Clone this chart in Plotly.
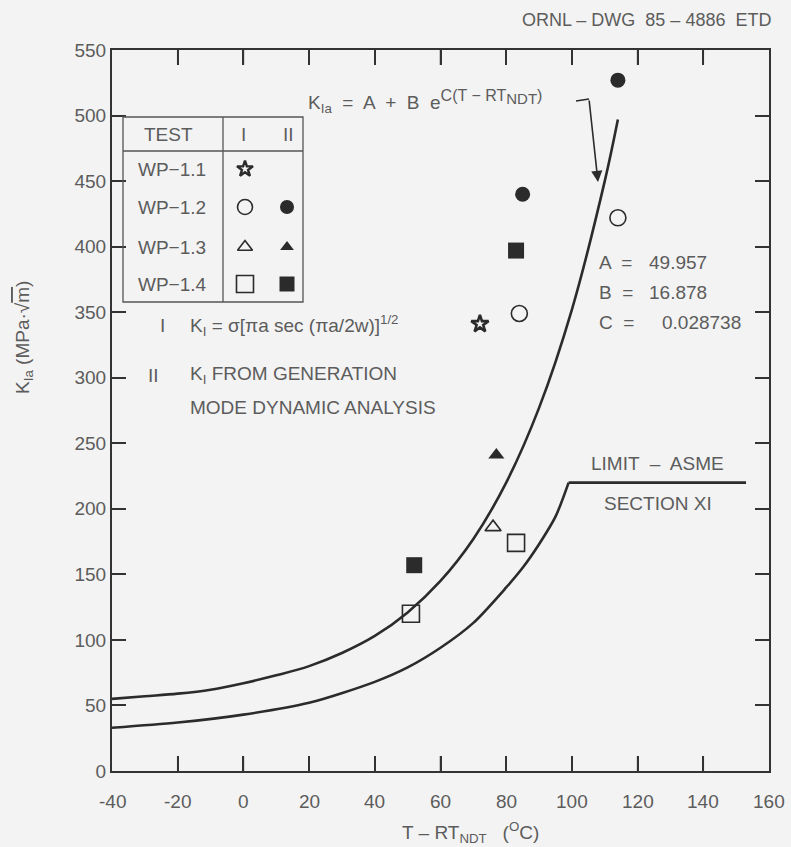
import plotly.graph_objects as go

# ---------------- data ----------------
T_fit = [-40, -30, -20, -10, 0, 10, 20, 30, 40, 50, 60, 70, 80, 90, 100, 110, 114]
K_fit = [55, 57, 59, 62, 67, 73, 80, 90, 103, 121, 145, 177, 220, 277, 352, 450, 497]

T_asme = [-40, -20, 0, 20, 40, 50, 60, 70, 80, 85, 90, 95, 99]
K_asme = [33, 37, 43, 52, 68, 79, 94, 113, 140, 155, 173, 194, 220]
T_asme_flat = [99, 153]
K_asme_flat = [220, 220]

# WP-1.1 (method I)
star_T = [72]
star_K = [341]
# WP-1.2
circ_open_T = [84, 114]
circ_open_K = [349, 422]
circ_fill_T = [85, 114]
circ_fill_K = [440, 527]
# WP-1.3
tri_open_T = [76]
tri_open_K = [186]
tri_fill_T = [77]
tri_fill_K = [241]
# WP-1.4
sq_open_T = [51, 83]
sq_open_K = [120, 174]
sq_fill_T = [52, 83]
sq_fill_K = [157, 397]

x_ticks = [-40, -20, 0, 20, 40, 60, 80, 100, 120, 140, 160]
x_ticktext = ["-40", "-20", "0", "20", "40", "60", "80", "100", "120", "140", "160"]
y_ticks = [0, 50, 100, 150, 200, 250, 300, 350, 400, 450, 500, 550]

table_rows = ["WP−1.1", "WP−1.2", "WP−1.3", "WP−1.4"]

# ---------------- styling ----------------
W, H = 791, 847
L, R, T, B = 112, 22, 50, 76
X0, X1, Y0, Y1 = L, W - R, T, H - B  # plot area in pixels
XR = (-40, 160)
YR = (0, 550)
BG = "#f3f3f3"
INK = "#2b2b2b"
TXT = "#5c5c5c"
FONT = "Liberation Sans"
FS = 19
XTICKLEN = 15


def px(xp):  # pixel -> paper
    return (xp - X0) / (X1 - X0)


def py(yp):
    return (Y1 - yp) / (Y1 - Y0)


def dx(xp):  # pixel -> data
    return XR[0] + (xp - X0) * (XR[1] - XR[0]) / (X1 - X0)


def dy(yp):
    return YR[0] + (Y1 - yp) * (YR[1] - YR[0]) / (Y1 - Y0)


fig = go.Figure()

# curves
fig.add_trace(go.Scatter(x=T_fit, y=K_fit, mode="lines",
                         line=dict(color=INK, width=2.6, shape="spline", smoothing=1.0),
                         hoverinfo="skip"))
fig.add_trace(go.Scatter(x=T_asme, y=K_asme, mode="lines",
                         line=dict(color=INK, width=2.6, shape="spline", smoothing=0.8),
                         hoverinfo="skip"))
fig.add_trace(go.Scatter(x=T_asme_flat, y=K_asme_flat, mode="lines",
                         line=dict(color=INK, width=2.6), hoverinfo="skip"))


def pts(xs, ys, symbol, size, lw=1.6):
    fig.add_trace(go.Scatter(x=xs, y=ys, mode="markers",
                             marker=dict(symbol=symbol, size=size, color=INK,
                                         line=dict(color=INK, width=lw)),
                             hoverinfo="skip"))


pts(star_T, star_K, "star-open", 13, 2.6)
pts(circ_open_T, circ_open_K, "circle-open", 16)
pts(circ_fill_T, circ_fill_K, "circle", 15, 0)
pts(tri_open_T, tri_open_K, "triangle-up-open", 14)
pts(tri_fill_T, tri_fill_K, "triangle-up", 14, 0)
pts(sq_open_T, sq_open_K, "square-open", 17)
pts(sq_fill_T, sq_fill_K, "square", 16, 0)

# ---------------- legend table ----------------
col_I, col_II = 245, 287
row_y = [169, 207, 247, 284]
tab_syms = [
    (col_I, row_y[0], "star-open", 12, 2.4),
    (col_I, row_y[1], "circle-open", 15, 1.6),
    (col_II, row_y[1], "circle", 14, 0),
    (col_I, row_y[2], "triangle-up-open", 13, 1.6),
    (col_II, row_y[2], "triangle-up", 12, 0),
    (col_I, row_y[3], "square-open", 17, 1.6),
    (col_II, row_y[3], "square", 15, 0),
]
for sx, sy, sym, sz, lw in tab_syms:
    fig.add_trace(go.Scatter(x=[dx(sx)], y=[dy(sy)], mode="markers",
                             marker=dict(symbol=sym, size=sz, color=INK,
                                         line=dict(color=INK, width=lw)),
                             hoverinfo="skip"))

LC = dict(color="#555", width=1.3)
shapes = [
    dict(type="rect", xref="x", yref="y", x0=dx(123), x1=dx(303), y0=dy(117), y1=dy(302), line=LC),
    dict(type="line", xref="x", yref="y", x0=dx(123), x1=dx(303), y0=dy(151), y1=dy(151), line=LC),
    dict(type="line", xref="x", yref="y", x0=dx(223), x1=dx(223), y0=dy(117), y1=dy(302), line=LC),
    # connector hook from formula label
    dict(type="line", xref="x", yref="y", x0=dx(576), x1=dx(589), y0=dy(101), y1=dy(99),
         line=dict(color=INK, width=1.6)),
]

# inside tick marks on the bottom and top axes, at the tick values
tick_h = XTICKLEN / (Y1 - Y0)
for v in x_ticks[1:-1]:
    shapes.append(dict(type="line", xref="x", yref="paper", x0=v, x1=v, y0=0, y1=tick_h,
                       line=dict(color="#333", width=1.5)))
    shapes.append(dict(type="line", xref="x", yref="paper", x0=v, x1=v, y0=1 - tick_h, y1=1,
                       line=dict(color="#333", width=1.5)))

annos = []


def txt(x, y, s, size=FS, xanchor="center", color=TXT):
    annos.append(dict(x=dx(x), y=dy(y), xref="x", yref="y", text=s,
                      showarrow=False, xanchor=xanchor, yanchor="middle",
                      font=dict(family=FONT, size=size, color=color)))


txt(168, 134, "TEST")
txt(243, 134, "I")
txt(288, 134, "II")
for lab, yy in zip(table_rows, row_y):
    txt(172, yy, lab)

# notes
txt(162, 325, "I")
txt(188, 325, "K<sub>I</sub> = σ[πa sec (πa/2w)]<sup>1/2</sup>", FS, "left")
txt(153, 375, "II")
txt(188, 375, "K<sub>I</sub> FROM GENERATION", FS, "left")
txt(188, 407, "MODE DYNAMIC ANALYSIS", FS, "left")

# formula label
txt(306, 101,
    "K<sub>Ia</sub>  =  A  +  B  e<sup><span style='font-size:16px'>C(T − RT</span>"
    "<sub><span style='font-size:15px'>NDT</span></sub><span style='font-size:16px'>)</span></sup>",
    FS, "left")
annos.append(dict(x=dx(598), y=dy(182), xref="x", yref="y", ax=dx(589), ay=dy(99),
                  axref="x", ayref="y",
                  text="", showarrow=True, arrowhead=2, arrowsize=1.4, arrowwidth=1.6,
                  arrowcolor=INK))

# constants
for lab, val, yy, vx in [("A  =", "49.957", 262, 647), ("B  =", "16.878", 292, 647),
                         ("C  =", "0.028738", 322, 660)]:
    txt(597, yy, lab, FS, "left")
    txt(vx, yy, val, FS, "left")

txt(657, 463, "LIMIT  –  ASME")
txt(658, 503, "SECTION XI")

# x tick labels, placed at the tick values below the axis
for v, s in zip(x_ticks, x_ticktext):
    annos.append(dict(x=v, y=py(801), xref="x", yref="paper", text=s, showarrow=False,
                      xanchor="center", yanchor="middle",
                      font=dict(family=FONT, size=FS, color=TXT)))

# outside texts (paper)
annos.append(dict(x=px(773), y=py(20), xref="paper", yref="paper",
                  text="ORNL – DWG  85 – 4886  ETD",
                  showarrow=False, xanchor="right", yanchor="middle",
                  font=dict(family=FONT, size=18, color=TXT)))
annos.append(dict(x=px(470), y=py(832), xref="paper", yref="paper",
                  text="T – RT<sub>NDT</sub>   (<sup>O</sup>C)",
                  showarrow=False, xanchor="center", yanchor="middle",
                  font=dict(family=FONT, size=FS, color=TXT)))
annos.append(dict(x=px(24), y=py(338), xref="paper", yref="paper",
                  text="K<sub>Ia</sub> (MPa·√<span style='text-decoration:overline'>m</span>)",
                  showarrow=False, xanchor="center", yanchor="middle", textangle=-90,
                  font=dict(family=FONT, size=19, color=TXT)))

fig.update_layout(
    width=W, height=H,
    margin=dict(l=L, r=R, t=T, b=B),
    paper_bgcolor=BG, plot_bgcolor=BG,
    showlegend=False,
    shapes=shapes, annotations=annos,
    xaxis=dict(range=list(XR), tickmode="array", tickvals=x_ticks,
               ticks="inside", ticklen=XTICKLEN, tickwidth=1.5, tickcolor="#333",
               showline=True, linecolor="#333", linewidth=2, mirror="ticks",
               showgrid=False, zeroline=False, showticklabels=False),
    yaxis=dict(range=list(YR), tickmode="array", tickvals=y_ticks,
               ticks="inside", ticklen=14, tickwidth=1.5, tickcolor="#333",
               showline=True, linecolor="#333", linewidth=2, mirror="ticks",
               showgrid=False, zeroline=False,
               tickfont=dict(family=FONT, size=FS, color=TXT)),
)

fig.write_html("out.html")
